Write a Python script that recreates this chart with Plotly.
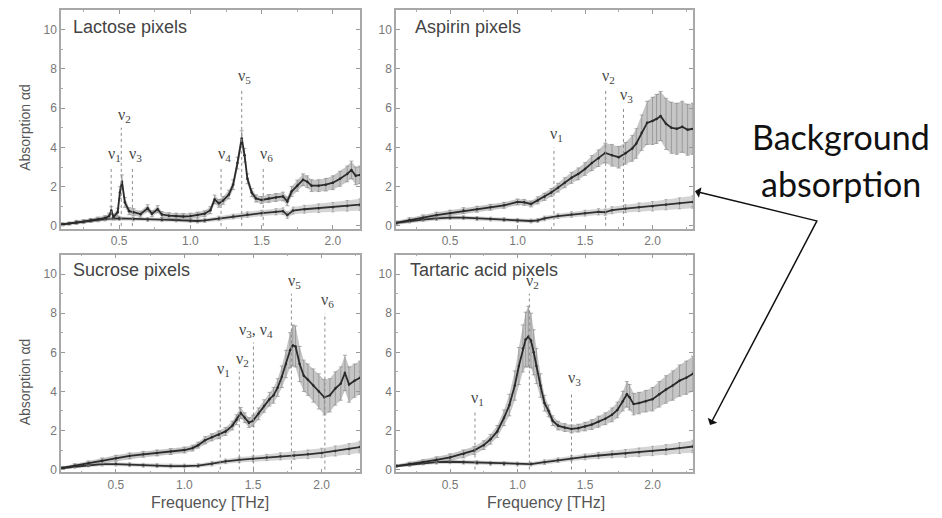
import plotly.graph_objects as go

# ---------------- data ----------------
# Lactose
lac_f = [0.10,0.15,0.20,0.25,0.30,0.35,0.40,0.43,0.445,0.46,0.49,0.505,0.52,0.54,0.57,0.60,
         0.65,0.70,0.73,0.77,0.80,0.85,0.90,0.95,1.00,1.05,1.10,1.14,1.17,1.20,1.23,1.27,1.30,
         1.33,1.36,1.38,1.40,1.43,1.46,1.50,1.55,1.60,1.65,1.68,1.71,1.75,1.79,1.82,1.85,1.90,
         1.95,2.00,2.05,2.10,2.13,2.16,2.19]
lac_y = [0.08,0.12,0.18,0.22,0.28,0.33,0.40,0.50,0.78,0.45,0.70,1.70,2.25,1.20,0.75,0.70,
         0.60,0.90,0.62,0.85,0.58,0.52,0.50,0.48,0.50,0.55,0.62,0.80,1.35,1.15,1.30,1.60,2.10,
         3.20,4.45,3.60,2.40,1.70,1.40,1.32,1.40,1.45,1.50,1.25,1.75,2.05,2.35,2.25,2.05,2.05,
         2.10,2.20,2.40,2.65,2.85,2.55,2.60]
lac_err = [0.08,0.08,0.10,0.10,0.10,0.12,0.12,0.15,0.20,0.15,0.20,0.30,0.35,0.25,0.18,0.18,
           0.15,0.18,0.15,0.18,0.15,0.15,0.15,0.15,0.15,0.15,0.15,0.18,0.22,0.20,0.20,0.22,0.25,
           0.30,0.40,0.35,0.25,0.20,0.18,0.18,0.20,0.20,0.22,0.22,0.25,0.28,0.30,0.30,0.30,0.30,
           0.32,0.35,0.38,0.40,0.45,0.45,0.45]
lac_bg_f = [0.10,0.20,0.30,0.40,0.50,0.60,0.70,0.80,0.90,1.00,1.05,1.10,1.20,1.30,1.40,1.50,
            1.60,1.65,1.68,1.72,1.80,1.90,2.00,2.10,2.19]
lac_bg_y = [0.08,0.18,0.28,0.35,0.38,0.35,0.33,0.32,0.30,0.28,0.25,0.28,0.38,0.48,0.58,0.65,
            0.72,0.75,0.55,0.78,0.85,0.90,0.95,1.02,1.08]
lac_bg_err = [0.05,0.08,0.08,0.10,0.10,0.10,0.10,0.10,0.10,0.10,0.10,0.10,0.12,0.12,0.14,0.15,
              0.16,0.17,0.17,0.18,0.20,0.22,0.24,0.27,0.30]
lac_pk_f = [0.444, 0.515, 0.593, 1.215, 1.36, 1.511]
lac_pk_h = [3, 5, 3, 3, 7, 3]
lac_pk_lbl = ["ν<sub>1</sub>", "ν<sub>2</sub>", "ν<sub>3</sub>", "ν<sub>4</sub>", "ν<sub>5</sub>", "ν<sub>6</sub>"]

# Aspirin
asp_f = [0.10,0.20,0.30,0.40,0.50,0.60,0.70,0.80,0.90,1.00,1.05,1.10,1.15,1.20,1.25,1.30,1.35,
         1.40,1.45,1.50,1.55,1.60,1.65,1.70,1.75,1.80,1.85,1.88,1.92,1.96,2.00,2.03,2.06,2.10,
         2.14,2.18,2.22,2.26,2.30]
asp_y = [0.15,0.30,0.42,0.55,0.65,0.78,0.85,0.95,1.05,1.22,1.20,1.12,1.30,1.48,1.70,1.95,2.20,
         2.45,2.65,2.90,3.20,3.45,3.72,3.60,3.50,3.70,3.95,4.20,4.75,5.25,5.35,5.45,5.60,5.20,
         5.00,4.95,5.05,4.90,4.95]
asp_err = [0.10,0.12,0.14,0.15,0.15,0.15,0.15,0.15,0.15,0.15,0.15,0.15,0.18,0.18,0.20,0.22,0.25,
           0.28,0.30,0.32,0.38,0.42,0.50,0.55,0.55,0.55,0.65,0.75,0.90,1.10,1.20,1.25,1.25,1.30,
           1.30,1.30,1.30,1.30,1.30]
asp_bg_f = [0.10,0.20,0.30,0.40,0.50,0.60,0.70,0.80,0.90,1.00,1.10,1.15,1.20,1.30,1.40,1.50,
            1.60,1.65,1.70,1.80,1.90,2.00,2.10,2.20,2.30]
asp_bg_y = [0.15,0.25,0.32,0.38,0.42,0.42,0.38,0.35,0.32,0.28,0.25,0.28,0.38,0.50,0.58,0.65,
            0.72,0.70,0.80,0.88,0.95,1.00,1.08,1.15,1.22]
asp_bg_err = [0.08,0.10,0.10,0.10,0.10,0.10,0.10,0.10,0.10,0.10,0.10,0.10,0.12,0.12,0.14,0.15,
              0.16,0.16,0.18,0.20,0.22,0.24,0.26,0.28,0.32]
asp_pk_f = [1.27, 1.653, 1.785]
asp_pk_h = [4, 7, 6]
asp_pk_lbl = ["ν<sub>1</sub>", "ν<sub>2</sub>", "ν<sub>3</sub>"]

# Sucrose
suc_f = [0.11,0.20,0.30,0.40,0.50,0.60,0.70,0.80,0.90,1.00,1.06,1.10,1.15,1.20,1.25,1.30,1.35,
         1.38,1.41,1.44,1.47,1.50,1.54,1.58,1.62,1.65,1.68,1.71,1.74,1.77,1.79,1.81,1.84,1.87,
         1.90,1.94,1.98,2.02,2.06,2.10,2.14,2.17,2.20,2.24,2.28]
suc_y = [0.08,0.20,0.32,0.45,0.58,0.70,0.78,0.85,0.92,1.00,1.10,1.25,1.50,1.65,1.78,1.95,2.25,
         2.55,2.90,2.65,2.40,2.50,2.85,3.25,3.60,3.80,4.20,4.75,5.40,6.10,6.35,6.30,5.40,4.80,
         4.60,4.30,4.00,3.70,3.80,4.15,4.40,4.95,4.35,4.55,4.70]
suc_err = [0.08,0.10,0.12,0.14,0.15,0.15,0.15,0.15,0.15,0.15,0.15,0.15,0.18,0.18,0.20,0.20,0.22,
           0.25,0.28,0.25,0.25,0.28,0.30,0.32,0.35,0.40,0.45,0.55,0.70,0.90,1.05,1.05,0.90,0.80,
           0.80,0.85,0.90,0.90,0.85,0.85,0.85,0.90,0.90,0.85,0.85]
suc_bg_f = [0.11,0.20,0.30,0.40,0.50,0.60,0.70,0.80,0.90,1.00,1.10,1.20,1.30,1.40,1.50,1.60,
            1.70,1.80,1.90,2.00,2.10,2.20,2.28]
suc_bg_y = [0.08,0.15,0.22,0.28,0.28,0.25,0.22,0.20,0.18,0.18,0.20,0.30,0.42,0.50,0.55,0.62,
            0.68,0.72,0.78,0.85,0.95,1.05,1.15]
suc_bg_err = [0.06,0.08,0.08,0.10,0.10,0.10,0.10,0.10,0.10,0.10,0.10,0.12,0.12,0.14,0.15,0.16,
              0.18,0.20,0.22,0.24,0.26,0.28,0.30]
suc_pk_f = [1.261, 1.40, 1.503, 1.78, 2.024]
suc_pk_h = [4.5, 5, 6.5, 9, 8]
suc_pk_lbl = ["ν<sub>1</sub>", "ν<sub>2</sub>", "ν<sub>3</sub>, ν<sub>4</sub>", "ν<sub>5</sub>", "ν<sub>6</sub>"]

# Tartaric acid
tar_f = [0.10,0.20,0.30,0.40,0.50,0.60,0.68,0.75,0.80,0.85,0.90,0.94,0.98,1.01,1.04,1.06,1.08,
         1.10,1.12,1.14,1.17,1.20,1.23,1.26,1.30,1.35,1.40,1.45,1.50,1.55,1.60,1.65,1.70,1.74,
         1.78,1.81,1.83,1.86,1.90,1.95,2.00,2.05,2.10,2.15,2.20,2.25,2.30]
tar_y = [0.18,0.28,0.38,0.50,0.62,0.80,0.98,1.25,1.55,1.95,2.65,3.30,4.30,5.30,6.20,6.65,6.80,
         6.60,6.00,5.30,4.30,3.40,3.00,2.50,2.25,2.15,2.08,2.12,2.20,2.30,2.45,2.60,2.80,3.05,
         3.50,3.85,3.70,3.35,3.40,3.50,3.60,3.85,4.10,4.30,4.55,4.70,4.90]
tar_err = [0.08,0.10,0.12,0.15,0.18,0.20,0.20,0.22,0.25,0.30,0.40,0.55,0.75,0.95,1.20,1.40,1.55,
           1.40,1.15,0.90,0.60,0.40,0.30,0.25,0.22,0.20,0.20,0.20,0.22,0.25,0.28,0.30,0.35,0.40,
           0.50,0.65,0.65,0.55,0.55,0.55,0.60,0.65,0.70,0.75,0.80,0.85,0.90]
tar_bg_f = [0.10,0.20,0.30,0.40,0.50,0.60,0.70,0.80,0.90,1.00,1.10,1.20,1.30,1.40,1.50,1.60,
            1.70,1.80,1.90,2.00,2.10,2.20,2.30]
tar_bg_y = [0.18,0.25,0.32,0.38,0.40,0.38,0.35,0.32,0.30,0.28,0.28,0.38,0.48,0.58,0.65,0.72,
            0.78,0.82,0.88,0.95,1.02,1.10,1.18]
tar_bg_err = [0.06,0.08,0.08,0.10,0.10,0.10,0.10,0.10,0.10,0.10,0.10,0.12,0.12,0.14,0.15,0.16,
              0.18,0.20,0.22,0.24,0.26,0.28,0.32]
tar_pk_f = [0.685, 1.088, 1.40]
tar_pk_h = [3, 9, 4]
tar_pk_lbl = ["ν<sub>1</sub>", "ν<sub>2</sub>", "ν<sub>3</sub>"]

panel_titles = ["Lactose pixels", "Aspirin pixels", "Sucrose pixels", "Tartaric acid pixels"]
x_tick_vals = [0.5, 1.0, 1.5, 2.0]
x_tick_text = ["0.5", "1.0", "1.5", "2.0"]
y_tick_vals = [0, 2, 4, 6, 8, 10]
y_title = "Absorption αd"
x_title = "Frequency [THz]"
side_note_lines = ["Background", "absorption"]

# ---------------- figure ----------------
W, H = 942, 518
OX, OY = 8, 8   # page body margin offset
FONT = "Liberation Sans, Arial, sans-serif"


def PX(x):
    return (x - OX) / W


def PY(y):
    return 1 - (y - OY) / H


panels = [
    dict(f=lac_f, y=lac_y, e=lac_err, bf=lac_bg_f, by=lac_bg_y, be=lac_bg_err,
         pf=lac_pk_f, ph=lac_pk_h, pl=lac_pk_lbl, xr=[0.092, 2.19],
         dx=[61, 360], dy=[9, 230], title_xy=(71, 26)),
    dict(f=asp_f, y=asp_y, e=asp_err, bf=asp_bg_f, by=asp_bg_y, be=asp_bg_err,
         pf=asp_pk_f, ph=asp_pk_h, pl=asp_pk_lbl, xr=[0.1, 2.3],
         dx=[396, 693], dy=[9, 230], title_xy=(413, 26)),
    dict(f=suc_f, y=suc_y, e=suc_err, bf=suc_bg_f, by=suc_bg_y, be=suc_bg_err,
         pf=suc_pk_f, ph=suc_pk_h, pl=suc_pk_lbl, xr=[0.1, 2.28],
         dx=[61, 360], dy=[256, 476], title_xy=(71, 272)),
    dict(f=tar_f, y=tar_y, e=tar_err, bf=tar_bg_f, by=tar_bg_y, be=tar_bg_err,
         pf=tar_pk_f, ph=tar_pk_h, pl=tar_pk_lbl, xr=[0.1, 2.3],
         dx=[396, 693], dy=[256, 476], title_xy=(408, 272)),
]

fig = go.Figure()
shapes, annotations = [], []
layout_axes = {}

for i, p in enumerate(panels):
    n = "" if i == 0 else str(i + 1)
    xa, ya = "x" + n, "y" + n
    # background band
    up = [a + b for a, b in zip(p["by"], p["be"])]
    lo = [a - b for a, b in zip(p["by"], p["be"])]
    fig.add_trace(go.Scatter(x=p["bf"], y=up, mode="lines", line=dict(width=0),
                             hoverinfo="skip", showlegend=False, xaxis=xa, yaxis=ya))
    fig.add_trace(go.Scatter(x=p["bf"], y=lo, mode="lines", line=dict(width=0), fill="tonexty",
                             fillcolor="rgba(160,160,160,0.45)", hoverinfo="skip",
                             showlegend=False, xaxis=xa, yaxis=ya))
    # main band
    up = [a + b for a, b in zip(p["y"], p["e"])]
    lo = [a - b for a, b in zip(p["y"], p["e"])]
    fig.add_trace(go.Scatter(x=p["f"], y=up, mode="lines", line=dict(width=0),
                             hoverinfo="skip", showlegend=False, xaxis=xa, yaxis=ya))
    fig.add_trace(go.Scatter(x=p["f"], y=lo, mode="lines", line=dict(width=0), fill="tonexty",
                             fillcolor="rgba(150,150,150,0.55)", hoverinfo="skip",
                             showlegend=False, xaxis=xa, yaxis=ya))
    # background line
    fig.add_trace(go.Scatter(x=p["bf"], y=p["by"], mode="lines+markers",
                             line=dict(color="#303030", width=1.8),
                             marker=dict(size=2.5, color="#303030"),
                             error_y=dict(type="data", array=p["be"], color="#9a9a9a",
                                          thickness=0.7, width=1.5),
                             showlegend=False, xaxis=xa, yaxis=ya))
    # main line
    fig.add_trace(go.Scatter(x=p["f"], y=p["y"], mode="lines+markers",
                             line=dict(color="#2a2a2a", width=1.8),
                             marker=dict(size=2.5, color="#2a2a2a"),
                             error_y=dict(type="data", array=p["e"], color="#8a8a8a",
                                          thickness=0.7, width=2),
                             showlegend=False, xaxis=xa, yaxis=ya))
    # resonance markers
    for fx, hy, lbl in zip(p["pf"], p["ph"], p["pl"]):
        shapes.append(dict(type="line", xref=xa, yref=ya, x0=fx, x1=fx, y0=0, y1=hy,
                           line=dict(color="#8c8c8c", width=1, dash="dot")))
        annotations.append(dict(xref=xa, yref=ya, x=fx, y=hy, text=lbl, showarrow=False,
                                xanchor="center", yanchor="bottom", xshift=3, yshift=1,
                                font=dict(family="Liberation Serif, serif", size=16, color="#444")))
    # panel title
    tx, ty = p["title_xy"]
    annotations.append(dict(xref="paper", yref="paper", x=PX(tx), y=PY(ty),
                            text=panel_titles[i], showarrow=False, xanchor="left",
                            yanchor="middle", font=dict(family=FONT, size=18, color="#444")))

    x0, x1 = p["dx"]
    y0, y1 = p["dy"]
    layout_axes["xaxis" + n] = dict(
        domain=[PX(x0), PX(x1)], range=p["xr"], anchor=ya,
        tickvals=x_tick_vals, ticktext=x_tick_text, ticks="inside", ticklen=4,
        tickcolor="#999", tickwidth=1, showline=True, linecolor="#a8a8a8", linewidth=1.5,
        mirror="ticks", showgrid=False, zeroline=False,
        tickfont=dict(family=FONT, size=12, color="#777"),
        minor=dict(dtick=0.25, tick0=0, ticks="inside", ticklen=2, tickcolor="#aaa"))
    layout_axes["yaxis" + n] = dict(
        domain=[PY(y1), PY(y0)], range=[-0.15, 11.0], anchor=xa,
        tickvals=y_tick_vals, ticks="inside", ticklen=4, tickcolor="#999", tickwidth=1,
        showline=True, linecolor="#a8a8a8", linewidth=1.5, mirror="ticks",
        showgrid=False, zeroline=False,
        tickfont=dict(family=FONT, size=12, color="#777"),
        minor=dict(dtick=1, ticks="inside", ticklen=2, tickcolor="#aaa"))

# axis titles
for cy in (128, 385):
    annotations.append(dict(xref="paper", yref="paper", x=PX(25), y=PY(cy), text=y_title,
                            textangle=-90, showarrow=False, xanchor="center", yanchor="middle",
                            font=dict(family=FONT, size=14, color="#555")))
for cx in (210, 546):
    annotations.append(dict(xref="paper", yref="paper", x=PX(cx), y=PY(506), text=x_title,
                            showarrow=False, xanchor="center", yanchor="middle",
                            font=dict(family=FONT, size=16, color="#555")))

# side note with arrows
for line_txt, cy in zip(side_note_lines, (137, 184)):
    annotations.append(dict(xref="paper", yref="paper", x=PX(841), y=PY(cy), text=line_txt,
                            showarrow=False, xanchor="center", yanchor="middle",
                            font=dict(family="Lato, sans-serif", size=34, color="#111")))
for hx, hy in ((695, 192), (710, 428)):
    annotations.append(dict(xref="paper", yref="paper", x=PX(hx), y=PY(hy), text="",
                            showarrow=True, ax=818 - hx, ay=222 - hy, axref="pixel",
                            ayref="pixel", arrowhead=1, arrowsize=1.2, arrowwidth=1.5,
                            arrowcolor="#111", standoff=0, startstandoff=0))

fig.update_layout(width=W, height=H, margin=dict(l=0, r=0, t=0, b=0),
                  paper_bgcolor="white", plot_bgcolor="white",
                  shapes=shapes, annotations=annotations, showlegend=False,
                  **layout_axes)

fig.write_html("out.html")
